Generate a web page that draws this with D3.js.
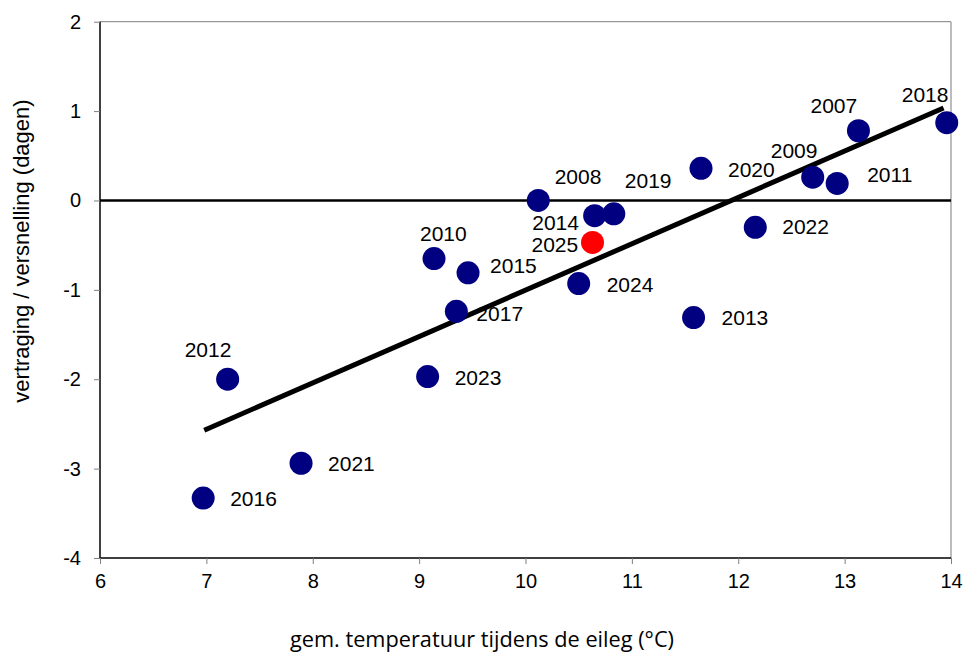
<!DOCTYPE html>
<html>
<head>
<meta charset="utf-8">
<script src="https://cdn.jsdelivr.net/npm/d3@7"></script>
<style>
  html, body { margin: 0; padding: 0; background: #fff; }
  svg { display: block; }
  text { font-family: "Liberation Sans", Arial, sans-serif; fill: #000; }
</style>
</head>
<body>
<svg id="chart" width="963" height="655"></svg>
<script>
// ---- data ----
const years = ["2007","2008","2009","2010","2011","2012","2013","2014","2015","2016",
               "2017","2018","2019","2020","2021","2022","2023","2024","2025"];
const temperature = [13.13,10.65,12.70,9.14,12.93,7.20,11.58,10.12,9.46,6.97,
                     9.35,13.96,10.83,11.65,7.89,12.16,9.08,10.50,10.63];
const shift = [0.78,-0.17,0.26,-0.65,0.19,-2.00,-1.31,0.00,-0.81,-3.33,
               -1.24,0.87,-0.15,0.36,-2.94,-0.30,-1.97,-0.93,-0.47];
const highlightYear = "2025";
const trendX = [6.98, 13.93];
const trendY = [-2.57, 1.035];
const xTicks = [6,7,8,9,10,11,12,13,14];
const yTicks = [-4,-3,-2,-1,0,1,2];
const xTitle = "gem. temperatuur tijdens de eileg (°C)";
const yTitle = "vertraging / versnelling (dagen)";

// label placement (pixel offsets of text start/baseline from the dot)
const labelOffsets = {
  "2007":[-48,-18], "2008":[-40,-32], "2009":[-42,-19], "2010":[-14,-18],
  "2011":[30,-1],   "2012":[-43,-22], "2013":[28,7],    "2014":[-6,30],
  "2015":[22,0],    "2016":[27,8],    "2017":[20,10],   "2018":[-45,-21],
  "2019":[11,-26],  "2020":[27,9],    "2021":[27,8],    "2022":[27,7],
  "2023":[27,8],    "2024":[28,8],    "2025":[-61,10]
};

// ---- layout ----
const svg = d3.select("#chart");
const L = 100, R = 951, T = 21.7, B = 558;
const x = d3.scaleLinear().domain([6,14]).range([L,R]);
const y = d3.scaleLinear().domain([-4,2]).range([B,T]);

// frame (top/right gray)
svg.append("line").attr("x1",L).attr("x2",R).attr("y1",T).attr("y2",T)
  .attr("stroke","#7f7f7f").attr("stroke-width",1);
svg.append("line").attr("x1",R).attr("x2",R).attr("y1",T).attr("y2",B)
  .attr("stroke","#a6a6a6").attr("stroke-width",1.5);

// axes
const xAxis = svg.append("g").attr("transform",`translate(0,${B})`)
  .call(d3.axisBottom(x).tickValues(xTicks).tickSize(6).tickPadding(10).tickFormat(d3.format("d")));
const yAxis = svg.append("g").attr("transform",`translate(${L},0)`)
  .call(d3.axisLeft(y).tickValues(yTicks).tickSize(6).tickPadding(13).tickFormat(d => d < 0 ? "-" + Math.abs(d) : d));
[xAxis, yAxis].forEach(g => {
  g.select(".domain").attr("stroke","#000").attr("stroke-width",1.5);
  g.selectAll(".tick line").attr("stroke","#7f7f7f").attr("stroke-width",1);
  g.selectAll(".tick text").style("font-family","Liberation Sans, Arial, sans-serif")
    .style("font-size","20px").attr("fill","#000");
});
yAxis.select(".domain").attr("d", `M0,${T}V${B}`);
xAxis.select(".domain").attr("d", `M${L},0H${R}`);

// zero line
svg.append("line").attr("x1",L).attr("x2",R).attr("y1",y(0)).attr("y2",y(0))
  .attr("stroke","#000").attr("stroke-width",2.5);

// points data
const pts = years.map((yr,i) => ({year: yr, t: temperature[i], v: shift[i]}));

// trend line
svg.append("line")
  .attr("x1",x(trendX[0])).attr("y1",y(trendY[0]))
  .attr("x2",x(trendX[1])).attr("y2",y(trendY[1]))
  .attr("stroke","#000").attr("stroke-width",5);

// dots
svg.append("g").selectAll("circle").data(pts).join("circle")
  .attr("cx", d => x(d.t)).attr("cy", d => y(d.v)).attr("r", 11.5)
  .attr("fill", d => d.year === highlightYear ? "#ff0000" : "#000080");

// labels
svg.append("g").selectAll("text").data(pts).join("text")
  .attr("x", d => x(d.t) + labelOffsets[d.year][0])
  .attr("y", d => y(d.v) + labelOffsets[d.year][1])
  .style("font-size","21px")
  .text(d => d.year);

// axis titles
const xt = svg.append("text").attr("x", 482).attr("y", 647).attr("text-anchor","middle")
  .style("font-family","'Open Sans', 'Noto Sans', sans-serif")
  .style("font-size","19px").text(xTitle);
const w = xt.node().getComputedTextLength();
xt.style("font-size", (19 * 384 / w).toFixed(2) + "px");

svg.append("text").attr("transform","translate(29,251) rotate(-90)").attr("text-anchor","middle")
  .style("font-size","22px").text(yTitle);
</script>
</body>
</html>
